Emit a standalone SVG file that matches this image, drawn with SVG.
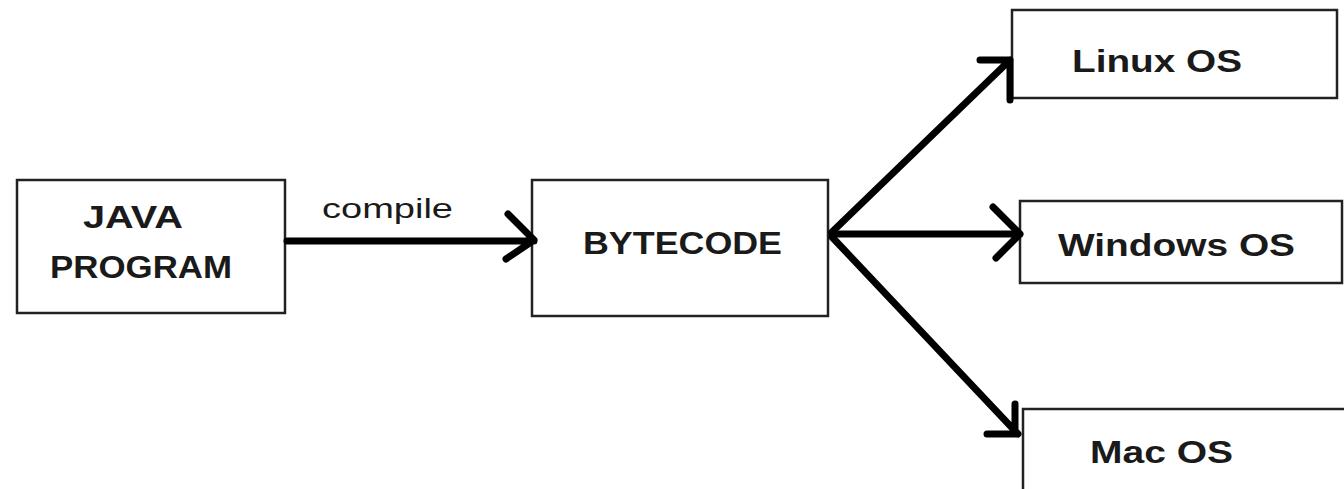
<svg xmlns="http://www.w3.org/2000/svg" width="1344" height="489" viewBox="0 0 1344 489">
<style>
.box{fill:#fff;stroke:#222;stroke-width:2.5}
.t{font-family:"Liberation Sans",Arial,sans-serif;font-weight:bold;font-size:32px;fill:#1a1a1a}
.c{font-family:"Liberation Sans",Arial,sans-serif;font-size:27px;fill:#1a1a1a}
.ln{fill:none;stroke:#000;stroke-width:7;stroke-linecap:round;stroke-linejoin:round}
</style>
<rect width="1344" height="489" fill="#fff"/>
<g id="java">
<rect class="box" x="17" y="180" width="268" height="133"/>
<text class="t" x="83" y="228" textLength="100" lengthAdjust="spacingAndGlyphs">JAVA</text>
<text class="t" x="50" y="278" textLength="182" lengthAdjust="spacingAndGlyphs">PROGRAM</text>
</g>
<g id="bytecode">
<rect class="box" x="532" y="180" width="296" height="136"/>
<text class="t" x="583" y="254" textLength="199" lengthAdjust="spacingAndGlyphs">BYTECODE</text>
</g>
<g id="linux">
<rect class="box" x="1012" y="10" width="325" height="88"/>
<text class="t" x="1072" y="72" textLength="170" lengthAdjust="spacingAndGlyphs">Linux OS</text>
</g>
<g id="windows">
<rect class="box" x="1020" y="201" width="322" height="82"/>
<text class="t" x="1058" y="256" textLength="237" lengthAdjust="spacingAndGlyphs">Windows OS</text>
</g>
<g id="mac">
<rect class="box" x="1023" y="409" width="324" height="85"/>
<text class="t" x="1090" y="463" textLength="143" lengthAdjust="spacingAndGlyphs">Mac OS</text>
</g>
<g id="connectors">
<path class="ln" d="M287 241 H534 M508 214 L534 240 L506 259"/>
<text class="c" x="322" y="218" textLength="131" lengthAdjust="spacingAndGlyphs">compile</text>
<path class="ln" d="M832 232 L1010 60 M980 60 H1010 V100"/>
<path class="ln" d="M832 234 H1020 M993 207 L1020 234 L996 258"/>
<path class="ln" d="M832 237 L1018 434 M1015 404 V434 H987"/>
</g>
</svg>
